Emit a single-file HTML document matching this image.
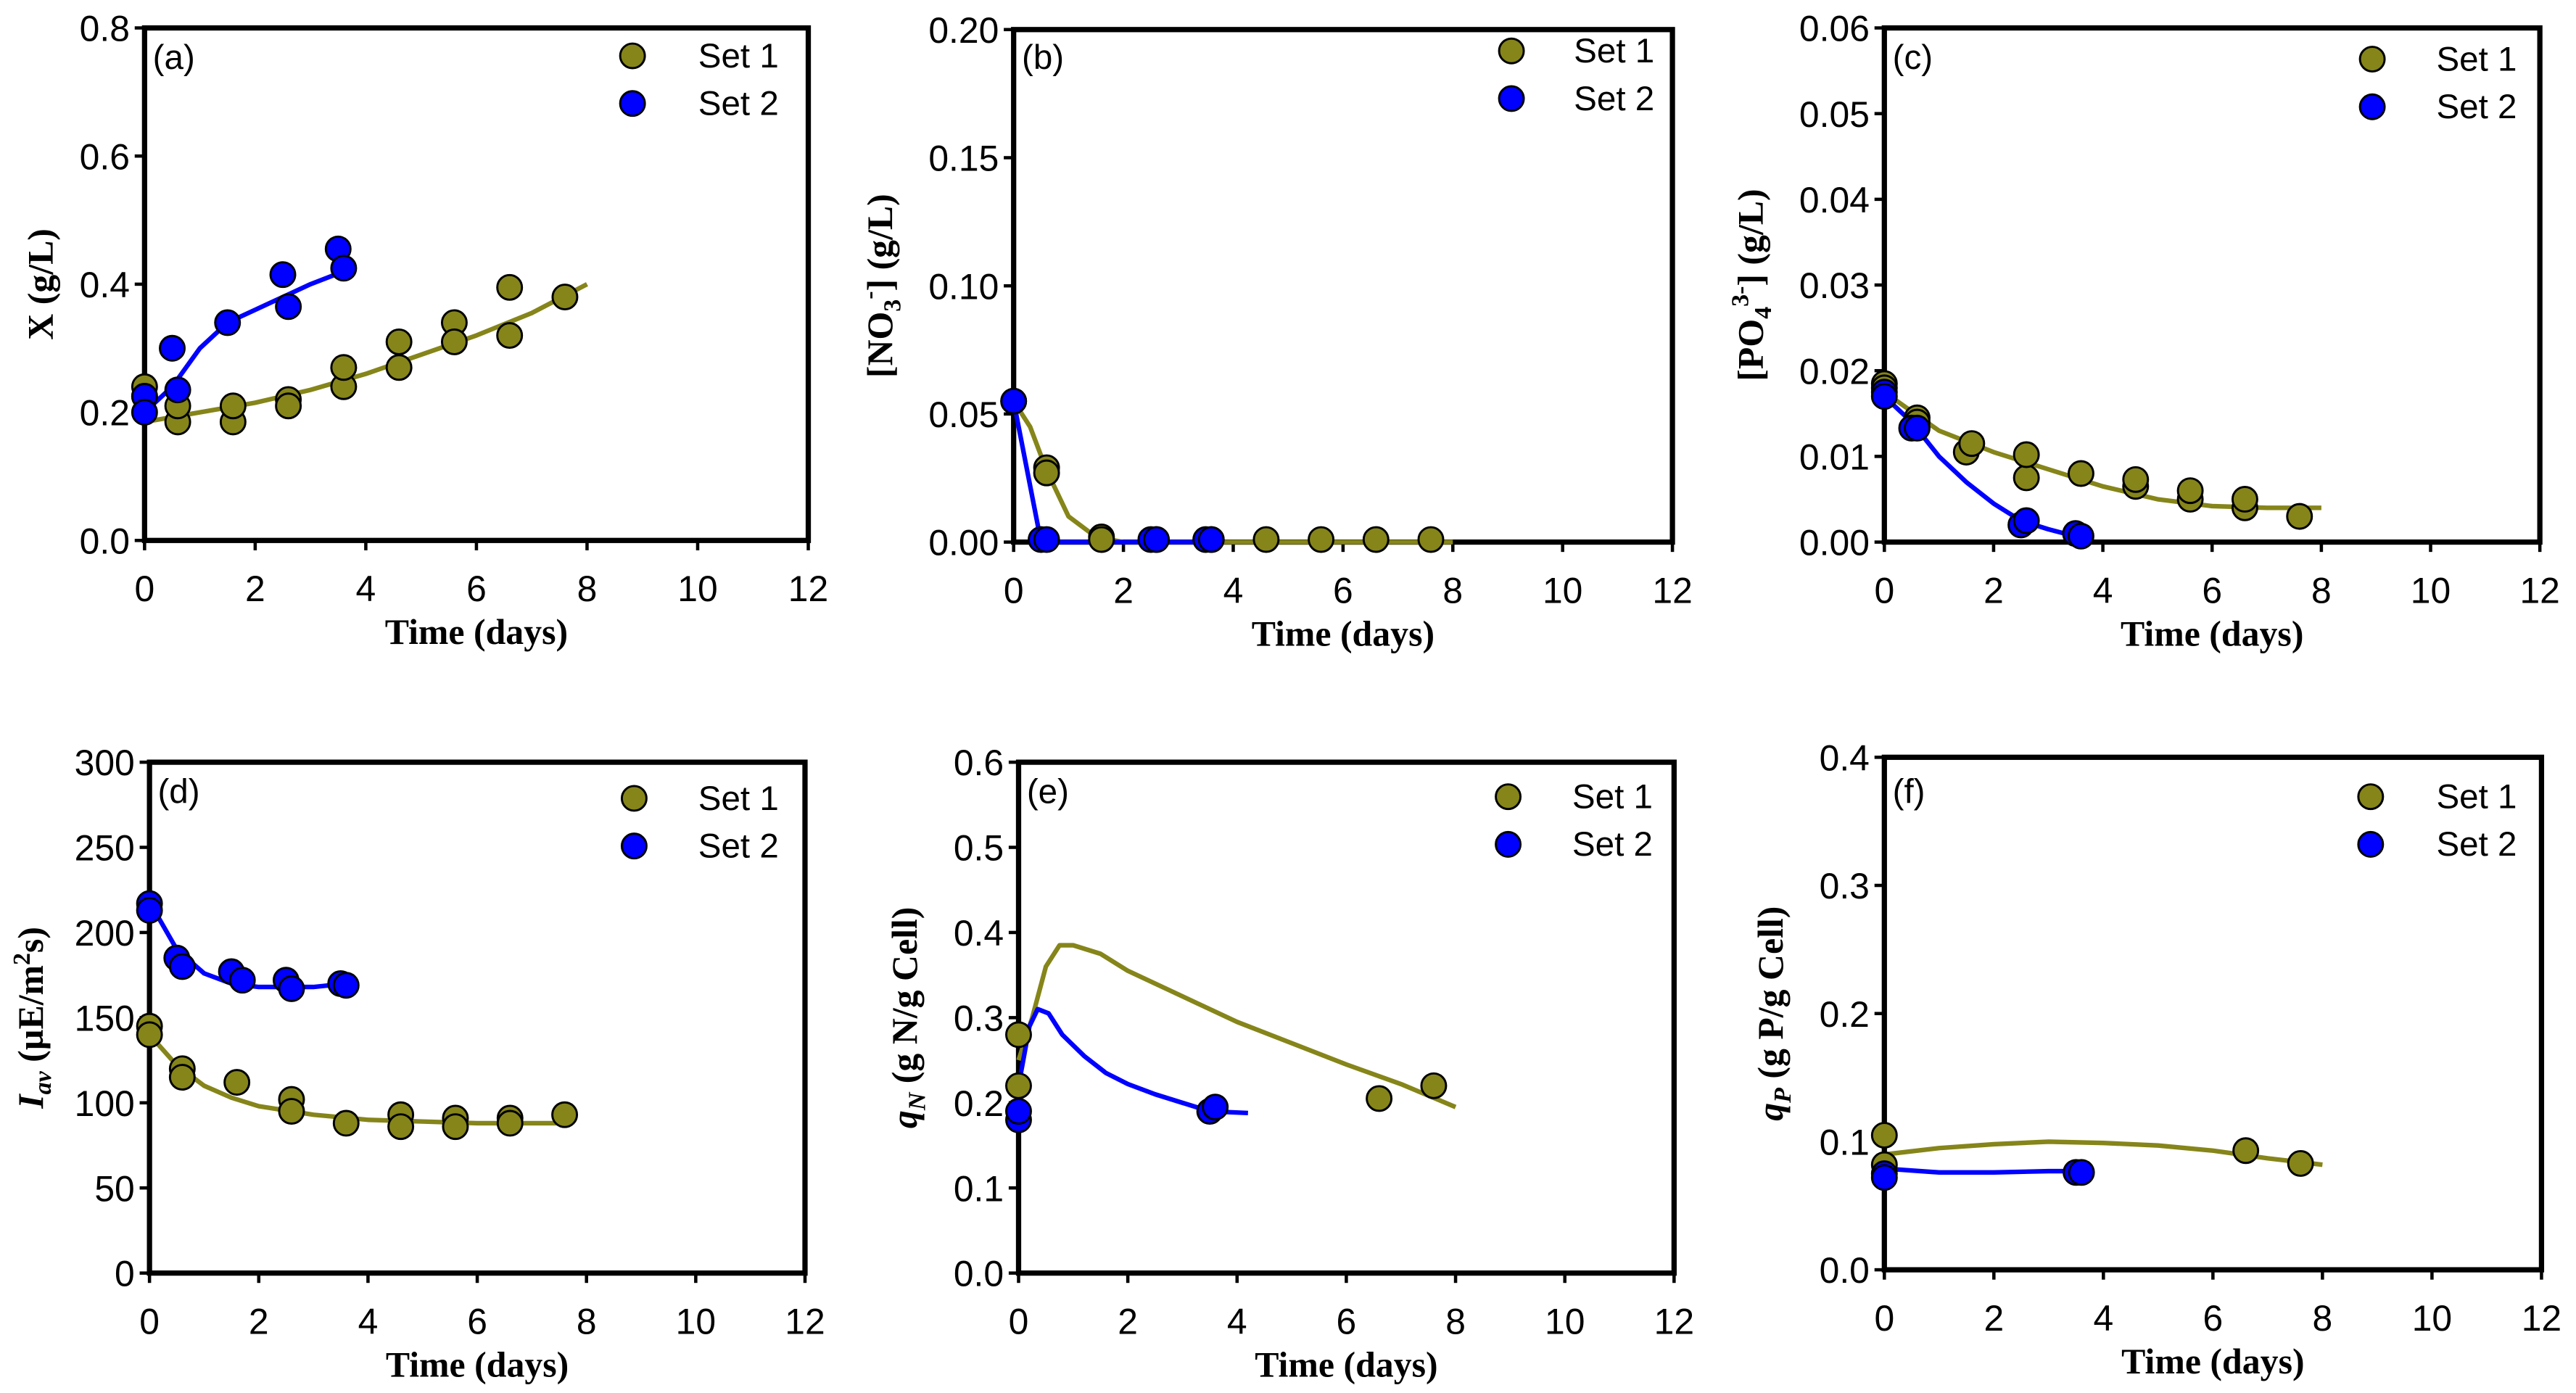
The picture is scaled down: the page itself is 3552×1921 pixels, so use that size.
<!DOCTYPE html>
<html><head><meta charset="utf-8"><style>
html,body{margin:0;padding:0;background:#fff;}
svg{display:block;}
.tk{font-family:"Liberation Sans",sans-serif;font-size:22px;fill:#000;}
.ttl{font-family:"Liberation Serif",serif;font-size:22px;font-weight:bold;fill:#000;}
.lg{font-family:"Liberation Sans",sans-serif;font-size:21px;fill:#000;}
</style></head><body>
<svg id="fig" width="3552" height="1921" viewBox="0 0 1568 848" xmlns="http://www.w3.org/2000/svg"></svg>
<script>
// ---- data (a) biomass X
const aS1x=[0,0,0.6,0.6,1.6,1.6,2.6,2.6,3.6,3.6,4.6,4.6,5.6,5.6,6.6,6.6,7.6];
const aS1y=[0.24,0.225,0.185,0.21,0.185,0.21,0.22,0.21,0.24,0.27,0.27,0.31,0.34,0.31,0.395,0.32,0.38];
const aL1x=[0,1,2,3,4,5,6,7,8];
const aL1y=[0.185,0.2,0.215,0.235,0.26,0.29,0.32,0.355,0.40];
const aS2x=[0,0,0.5,0.6,1.5,2.5,2.6,3.5,3.6];
const aS2y=[0.225,0.2,0.30,0.235,0.34,0.415,0.365,0.455,0.425];
const aL2x=[0,0.5,1,1.5,2,2.5,3,3.6];
const aL2y=[0.2,0.24,0.3,0.34,0.36,0.38,0.4,0.42];
const aYt=[0,0.2,0.4,0.6,0.8];
// ---- data (b) nitrate
const bS1x=[0,0.6,0.6,1.6,1.6,2.6,3.6,4.6,5.6,6.6,7.6];
const bS1y=[0.055,0.029,0.027,0.002,0.001,0.001,0.001,0.001,0.001,0.001,0.001];
const bL1x=[0,0.3,0.6,1,1.5,2,8];
const bL1y=[0.055,0.045,0.028,0.01,0.002,0,0];
const bS2x=[0,0.5,0.6,2.5,2.6,3.5,3.6];
const bS2y=[0.055,0.001,0.001,0.001,0.001,0.001,0.001];
const bL2x=[0,0.5,3.6];
const bL2y=[0.055,0,0];
const bYt=[0,0.05,0.1,0.15,0.2];
// ---- data (c) phosphate
const cS1x=[0,0,0.6,0.6,1.5,1.6,2.6,2.6,3.6,4.6,4.6,5.6,5.6,6.6,6.6,7.6];
const cS1y=[0.0185,0.018,0.0145,0.014,0.0105,0.0115,0.0075,0.0102,0.008,0.0065,0.0073,0.005,0.006,0.004,0.005,0.003];
const cL1x=[0,1,2,3,4,5,6,7,8];
const cL1y=[0.0175,0.013,0.0105,0.0085,0.0065,0.005,0.0042,0.004,0.004];
const cS2x=[0,0,0.5,0.6,2.5,2.6,3.5,3.6];
const cS2y=[0.0175,0.017,0.0133,0.0133,0.002,0.0025,0.001,0.0007];
const cL2x=[0,0.5,1,1.5,2,2.5,3,3.6];
const cL2y=[0.017,0.014,0.01,0.007,0.0045,0.0025,0.0015,0.0005];
const cYt=[0,0.01,0.02,0.03,0.04,0.05,0.06];
// ---- data (d) Iav
const dS1x=[0,0,0.6,0.6,1.6,2.6,2.6,3.6,4.6,4.6,5.6,5.6,6.6,6.6,7.6];
const dS1y=[145,140,120,115,112,102,95,88,93,86,91,86,91,88,93];
const dL1x=[0,0.5,1,1.5,2,3,4,5,6,7,7.6];
const dL1y=[140,122,110,103,98,93,90,89,88,88,88];
const dS2x=[0,0,0.5,0.6,1.5,1.7,2.5,2.6,3.5,3.6];
const dS2y=[217,213,185,180,177,172,172,167,170,169];
const dL2x=[0,0.5,1,1.5,2,3,3.6];
const dL2y=[218,190,176,170,168,168,170];
const dYt=[0,50,100,150,200,250,300];
// ---- data (e) qN
const eS1x=[0,0,6.6,7.6];
const eS1y=[0.28,0.22,0.205,0.22];
const eL1x=[0,0.25,0.5,0.75,1,1.5,2,3,4,5,6,7,8];
const eL1y=[0.25,0.3,0.36,0.385,0.385,0.375,0.355,0.325,0.295,0.27,0.245,0.222,0.195];
const eS2x=[0,0,3.5,3.6];
const eS2y=[0.18,0.19,0.19,0.195];
const eL2x=[0,0.2,0.35,0.55,0.8,1.2,1.6,2,2.5,3,3.5,4.2];
const eL2y=[0.22,0.29,0.31,0.305,0.28,0.255,0.235,0.222,0.21,0.2,0.19,0.188];
const eYt=[0,0.1,0.2,0.3,0.4,0.5,0.6];
// ---- data (f) qP
const fS1x=[0,0,6.6,7.6];
const fS1y=[0.105,0.082,0.093,0.083];
const fL1x=[0,1,2,3,4,5,6,7,8];
const fL1y=[0.09,0.095,0.098,0.1,0.099,0.097,0.093,0.087,0.082];
const fS2x=[0,0,3.5,3.6];
const fS2y=[0.075,0.072,0.076,0.076];
const fL2x=[0,1,2,3,3.6];
const fL2y=[0.079,0.076,0.076,0.077,0.077];
const fYt=[0,0.1,0.2,0.3,0.4];
const xTicks=[0,2,4,6,8,10,12];

const NS="http://www.w3.org/2000/svg";
const svg=document.getElementById('fig');
const C1="#85851a", C2="#0000ff";
function mk(tag,attrs,parent){const e=document.createElementNS(NS,tag);for(const k in attrs)e.setAttribute(k,attrs[k]);(parent||svg).appendChild(e);return e;}

const panels=[
 {id:'a',L:88,R:492,T:17,B:329,ymax:0.8,yt:aYt,fmt:v=>v.toFixed(1),s1:[aS1x,aS1y],l1:[aL1x,aL1y],s2:[aS2x,aS2y],l2:[aL2x,aL2y],leg:[385,34,425],lab:[93,42],yx:32},
 {id:'b',L:617,R:1018,T:18,B:330,ymax:0.2,yt:bYt,fmt:v=>v.toFixed(2),s1:[bS1x,bS1y],l1:[bL1x,bL1y],s2:[bS2x,bS2y],l2:[bL2x,bL2y],leg:[920,31,958],lab:[622,42],yx:543},
 {id:'c',L:1147,R:1546,T:17,B:330,ymax:0.06,yt:cYt,fmt:v=>v.toFixed(2),s1:[cS1x,cS1y],l1:[cL1x,cL1y],s2:[cS2x,cS2y],l2:[cL2x,cL2y],leg:[1444,36,1483],lab:[1152,42],yx:1073},
 {id:'d',L:91,R:490,T:464,B:775,ymax:300,yt:dYt,fmt:v=>String(v),s1:[dS1x,dS1y],l1:[dL1x,dL1y],s2:[dS2x,dS2y],l2:[dL2x,dL2y],leg:[386,486,425],lab:[96,489],yx:26},
 {id:'e',L:620,R:1019,T:464,B:775,ymax:0.6,yt:eYt,fmt:v=>v.toFixed(1),s1:[eS1x,eS1y],l1:[eL1x,eL1y],s2:[eS2x,eS2y],l2:[eL2x,eL2y],leg:[918,485,957],lab:[625,489],yx:558},
 {id:'f',L:1147,R:1547,T:461,B:773,ymax:0.4,yt:fYt,fmt:v=>v.toFixed(1),s1:[fS1x,fS1y],l1:[fL1x,fL1y],s2:[fS2x,fS2y],l2:[fL2x,fL2y],leg:[1443,485,1483],lab:[1152,489],yx:1085}
];

panels.forEach(p=>{
  const g=mk('g',{});
  
  
  const sx=v=>p.L+(p.R-p.L)*v/12;
  const sy=v=>p.B-(p.B-p.T)*v/p.ymax;
  const fr=mk('rect',{x:p.L,y:p.T,width:p.R-p.L,height:p.B-p.T,fill:'none',stroke:'#000','stroke-width':3.2},g);
  
  
  p.yt.forEach(v=>{
    const y=sy(v);
    mk('line',{x1:p.L-6,x2:p.L,y1:y,y2:y,stroke:'#000','stroke-width':2},g);
    const t=mk('text',{x:p.L-9,y:y+8,'text-anchor':'end',class:'tk'},g);
    
    
    t.textContent=p.fmt(v);
  });
  xTicks.forEach(v=>{
    const x=sx(v);
    mk('line',{x1:x,x2:x,y1:p.B,y2:p.B+6,stroke:'#000','stroke-width':2},g);
    const t=mk('text',{x:x,y:p.B+37,'text-anchor':'middle',class:'tk'},g);
    
    
    t.textContent=v;
  });
  const xt=mk('text',{x:(p.L+p.R)/2,y:p.B+63,'text-anchor':'middle',class:'ttl'},g);
  
  
  xt.textContent='Time (days)';
  [[p.l1,C1,'set1-fit-line'],[p.l2,C2,'set2-fit-line']].forEach(([d,c,n])=>{
    const pts=d[0].map((x,i)=>sx(x)+','+sy(d[1][i])).join(' ');
    const pl=mk('polyline',{points:pts,fill:'none',stroke:c,'stroke-width':2.8,'stroke-linejoin':'round'},g);
    
    
  });
  [[p.s1,C1,'set1-point'],[p.s2,C2,'set2-point']].forEach(([d,c,n])=>{
    d[0].forEach((x,i)=>{
      const ci=mk('circle',{cx:sx(x),cy:sy(d[1][i]),r:7.5,fill:c,stroke:'#000','stroke-width':1.3},g);
      
      
    });
  });
  const [lx,ly,tx]=p.leg;
  [[C1,'Set 1',0],[C2,'Set 2',29]].forEach(([c,s,o],k)=>{
    const m=mk('circle',{cx:lx,cy:ly+o,r:7.5,fill:c,stroke:'#000','stroke-width':1.3},g);
    
    
    const t=mk('text',{x:tx,y:ly+o+7,class:'lg'},g);
    
    
    t.textContent=s;
  });
  const lb=mk('text',{x:p.lab[0],y:p.lab[1],class:'lg'},g);
  
  
  lb.textContent='('+p.id+')';
  p.g=g;p.cy=(p.T+p.B)/2;
});

const ytitles={
 a:'<tspan>X (g/L)</tspan>',
 b:'<tspan>[NO</tspan><tspan font-size="15" dy="5">3</tspan><tspan font-size="15" dy="-14">-</tspan><tspan dy="9">] (g/L)</tspan>',
 c:'<tspan>[PO</tspan><tspan font-size="15" dy="5">4</tspan><tspan font-size="15" dy="-14">3-</tspan><tspan dy="9">] (g/L)</tspan>',
 d:'<tspan font-style="italic">I</tspan><tspan font-style="italic" font-size="15" dy="5">av</tspan><tspan dy="-5"> (µE/m</tspan><tspan font-size="15" dy="-8">2</tspan><tspan dy="8">s)</tspan>',
 e:'<tspan font-style="italic">q</tspan><tspan font-style="italic" font-size="15" dy="5">N</tspan><tspan dy="-5"> (g N/g Cell)</tspan>',
 f:'<tspan font-style="italic">q</tspan><tspan font-style="italic" font-size="15" dy="5">P</tspan><tspan dy="-5"> (g P/g Cell)</tspan>'
};
panels.forEach(p=>{
  const t=mk('text',{x:0,y:0,'text-anchor':'middle',class:'ttl',transform:'translate('+p.yx+','+p.cy+') rotate(-90)'},p.g);
  
  
  t.innerHTML=ytitles[p.id];
});
</script>
</body></html>
